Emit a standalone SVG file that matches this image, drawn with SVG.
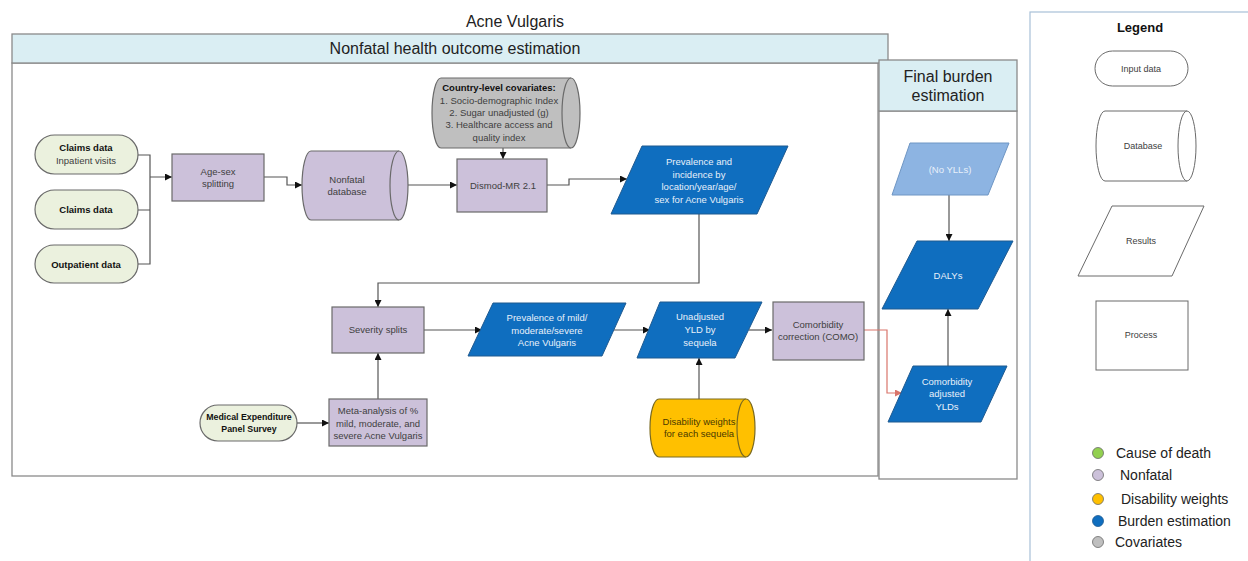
<svg xmlns="http://www.w3.org/2000/svg" width="1248" height="561" viewBox="0 0 1248 561">
  <style>
    text { font-family: "Liberation Sans", Arial, sans-serif; text-anchor: middle; }
    .t { font-size: 9.5px; fill: #404040; }
    .tb { font-size: 9.5px; fill: #111; font-weight: bold; }
    .tw { font-size: 9.5px; fill: #e8f0fa; }
    .head { font-size: 16px; fill: #222; }
    .leg { font-size: 14px; fill: #222; text-anchor: start; }
    .frame { fill: #fff; stroke: #8a8a8a; stroke-width: 1.3; }
    .band { fill: #daeef3; stroke: #8a8a8a; stroke-width: 1.3; }
    .input { fill: #ebf1de; stroke: #6a6a6a; stroke-width: 1.2; }
    .proc { fill: #ccc1da; stroke: #6a6a6a; stroke-width: 1.2; }
    .res { fill: #0f6ebf; stroke: #1f5a90; stroke-width: 1; }
    .resl { fill: #8db4e2; stroke: #6f96c4; stroke-width: 1; }
    .cov { fill: #bfbfbf; stroke: #6a6a6a; stroke-width: 1.2; }
    .dw { fill: #ffc000; stroke: #7a6a20; stroke-width: 1.2; }
    .lgd { fill: #fff; stroke: #6a6a6a; stroke-width: 1; }
    .edge { fill: none; stroke: #555; stroke-width: 1.2; }
    .red { fill: none; stroke: #d9756b; stroke-width: 1.2; }
  </style>
  <defs>
    <marker id="arr" viewBox="0 0 10 10" refX="10" refY="5" markerWidth="7" markerHeight="7" orient="auto" markerUnits="userSpaceOnUse">
      <path d="M0,0 L10,5 L0,10 Z" fill="#111"/>
    </marker>
    <marker id="arrRed" viewBox="0 0 10 10" refX="10" refY="5" markerWidth="7" markerHeight="7" orient="auto" markerUnits="userSpaceOnUse">
      <path d="M0,0 L10,5 L0,10 Z" fill="#d9756b"/>
    </marker>
  </defs>

  <rect width="1248" height="561" fill="#fff"/>

  <!-- swimlane frames -->
  <g id="frames">
    <text class="head" x="515" y="27">Acne Vulgaris</text>
    <rect class="frame" x="12" y="63" width="866" height="413"/>
    <rect class="band" x="12" y="34" width="876" height="29"/>
    <text class="head" x="455" y="54">Nonfatal health outcome estimation</text>
    <rect class="frame" x="879" y="111" width="138" height="368"/>
    <rect class="band" x="879" y="60" width="138" height="51"/>
    <text class="head" x="948" y="82">Final burden</text>
    <text class="head" x="948" y="101">estimation</text>
  </g>

  <!-- connectors -->
  <g id="connectors">
    <path class="edge" d="M138,155 H150 V264 H138 M138,210 H150 M150,177 H172" marker-end="url(#arr)"/>
    <path class="edge" d="M264,177 H287 V185 H302" marker-end="url(#arr)"/>
    <path class="edge" d="M408,185 H457" marker-end="url(#arr)"/>
    <path class="edge" d="M503,148 V159" marker-end="url(#arr)"/>
    <path class="edge" d="M547,185 H569 V179 H627" marker-end="url(#arr)"/>
    <path class="edge" d="M699,214 V283 H378 V307" marker-end="url(#arr)"/>
    <path class="edge" d="M378,399 V353" marker-end="url(#arr)"/>
    <path class="edge" d="M297,423 H329" marker-end="url(#arr)"/>
    <path class="edge" d="M424,330 H482" marker-end="url(#arr)"/>
    <path class="edge" d="M614,330 H650" marker-end="url(#arr)"/>
    <path class="edge" d="M749,330 H772" marker-end="url(#arr)"/>
    <path class="edge" d="M699,399 V358" marker-end="url(#arr)"/>
    <path class="red" d="M864,330 H887 V393 H902" marker-end="url(#arrRed)"/>
    <path class="edge" d="M948,366 V309" marker-end="url(#arr)"/>
    <path class="edge" d="M949,195 V241" marker-end="url(#arr)"/>
  </g>

  <!-- input data -->
  <g id="claims-inpatient">
    <rect class="input" x="35" y="135" width="103" height="39" rx="19.5"/>
    <text class="tb" x="86" y="151">Claims data</text>
    <text class="t" x="86" y="164">Inpatient visits</text>
  </g>
  <g id="claims">
    <rect class="input" x="35" y="190" width="103" height="39" rx="19.5"/>
    <text class="tb" x="86" y="213">Claims data</text>
  </g>
  <g id="outpatient">
    <rect class="input" x="35" y="245" width="103" height="38" rx="19"/>
    <text class="tb" x="86" y="268">Outpatient data</text>
  </g>
  <g id="meps">
    <rect class="input" x="200" y="405" width="97" height="36" rx="18"/>
    <text class="tb" x="249" y="420" style="font-size:8.8px">Medical Expenditure</text>
    <text class="tb" x="249" y="432" style="font-size:8.8px">Panel Survey</text>
  </g>

  <!-- processes -->
  <g id="age-sex">
    <rect class="proc" x="172" y="154" width="92" height="47"/>
    <text class="t" x="218" y="175">Age-sex</text>
    <text class="t" x="218" y="187">splitting</text>
  </g>
  <g id="dismod">
    <rect class="proc" x="457" y="159" width="90" height="53"/>
    <text class="t" x="503" y="189">Dismod-MR 2.1</text>
  </g>
  <g id="severity">
    <rect class="proc" x="332" y="307" width="92" height="46"/>
    <text class="t" x="378" y="333">Severity splits</text>
  </g>
  <g id="meta">
    <rect class="proc" x="329" y="399" width="98" height="47"/>
    <text class="t" x="378" y="414">Meta-analysis of %</text>
    <text class="t" x="378" y="427">mild, moderate, and</text>
    <text class="t" x="378" y="439">severe Acne Vulgaris</text>
  </g>
  <g id="como">
    <rect class="proc" x="773" y="302" width="91" height="58"/>
    <text class="t" x="818" y="328">Comorbidity</text>
    <text class="t" x="818" y="340">correction (COMO)</text>
  </g>

  <!-- databases -->
  <g id="nonfatal-db">
    <path class="proc" d="M311,151 H399 A9,34.5 0 0 1 399,220 H311 A9,34.5 0 0 1 311,151 Z"/>
    <path class="proc" fill="none" d="M399,151 A9,34.5 0 0 0 399,220"/>
    <text class="t" x="347" y="183">Nonfatal</text>
    <text class="t" x="347" y="195">database</text>
  </g>
  <g id="covariates">
    <path class="cov" d="M441,78 H571 A9,35 0 0 1 571,148 H441 A9,35 0 0 1 441,78 Z"/>
    <path class="cov" fill="none" d="M571,78 A9,35 0 0 0 571,148"/>
    <text class="tb" x="499" y="91">Country-level covariates:</text>
    <text class="t" x="499" y="104">1. Socio-demographic Index</text>
    <text class="t" x="499" y="116">2. Sugar unadjusted (g)</text>
    <text class="t" x="499" y="128">3. Healthcare access and</text>
    <text class="t" x="499" y="141">quality index</text>
  </g>
  <g id="disability-weights">
    <path class="dw" d="M659,399 H746 A9,29 0 0 1 746,457 H659 A9,29 0 0 1 659,399 Z"/>
    <path class="dw" fill="none" d="M746,399 A9,29 0 0 0 746,457"/>
    <text class="t" x="699" y="425" style="fill:#4a3a00">Disability weights</text>
    <text class="t" x="699" y="437" style="fill:#4a3a00">for each sequela</text>
  </g>

  <!-- results -->
  <g id="prevalence-incidence">
    <polygon class="res" points="642,146 788,146 757,214 611,214"/>
    <text class="tw" x="699" y="165">Prevalence and</text>
    <text class="tw" x="699" y="178">incidence by</text>
    <text class="tw" x="699" y="190">location/year/age/</text>
    <text class="tw" x="699" y="203">sex for Acne Vulgaris</text>
  </g>
  <g id="prevalence-severity">
    <polygon class="res" points="493,303 626,303 602,356 468,356"/>
    <text class="tw" x="547" y="321">Prevalence of mild/</text>
    <text class="tw" x="547" y="334">moderate/severe</text>
    <text class="tw" x="547" y="346">Acne Vulgaris</text>
  </g>
  <g id="unadjusted-yld">
    <polygon class="res" points="660,302 762,302 735,358 637,358"/>
    <text class="tw" x="700" y="320">Unadjusted</text>
    <text class="tw" x="700" y="333">YLD by</text>
    <text class="tw" x="700" y="346">sequela</text>
  </g>
  <g id="adjusted-ylds">
    <polygon class="res" points="913,366 1007,366 981,422 888,422"/>
    <text class="tw" x="947" y="385">Comorbidity</text>
    <text class="tw" x="947" y="397">adjusted</text>
    <text class="tw" x="947" y="410">YLDs</text>
  </g>
  <g id="dalys">
    <polygon class="res" points="917,241 1013,241 978,309 882,309"/>
    <text class="tw" x="948" y="279">DALYs</text>
  </g>
  <g id="no-ylls">
    <polygon class="resl" points="910,143 1009,143 988,195 892,195"/>
    <text class="tw" x="950" y="173">(No YLLs)</text>
  </g>

  <!-- legend -->
  <g id="legend">
    <rect x="1030" y="12" width="240" height="560" fill="#fff" stroke="#a8c0d8" stroke-width="1.2"/>
    <text x="1140" y="32" style="font-size:13px;font-weight:bold;fill:#111">Legend</text>
    <rect class="lgd" x="1095" y="51" width="93" height="35" rx="17.5"/>
    <text class="t" x="1141" y="72" style="font-size:9px">Input data</text>
    <path class="lgd" d="M1105,111 H1187 A9,35 0 0 1 1187,181 H1105 A9,35 0 0 1 1105,111 Z"/>
    <path class="lgd" fill="none" d="M1187,111 A9,35 0 0 0 1187,181"/>
    <text class="t" x="1143" y="149" style="font-size:9px">Database</text>
    <polygon class="lgd" points="1112,206 1204,206 1172,276 1078,276"/>
    <text class="t" x="1141" y="244" style="font-size:9px">Results</text>
    <rect class="lgd" x="1096" y="301" width="92" height="69"/>
    <text class="t" x="1141" y="338" style="font-size:9px">Process</text>
    <circle cx="1098" cy="453" r="5.5" fill="#92d050" stroke="#6a6a6a" stroke-width="0.8"/>
    <text class="leg" x="1116" y="458">Cause of death</text>
    <circle cx="1098" cy="475" r="5.5" fill="#ccc1da" stroke="#6a6a6a" stroke-width="0.8"/>
    <text class="leg" x="1120" y="480">Nonfatal</text>
    <circle cx="1098" cy="499" r="5.5" fill="#ffc000" stroke="#6a6a6a" stroke-width="0.8"/>
    <text class="leg" x="1121" y="504">Disability weights</text>
    <circle cx="1098" cy="521" r="5.5" fill="#0f6ebf" stroke="#1f5a90" stroke-width="0.8"/>
    <text class="leg" x="1118" y="526">Burden estimation</text>
    <circle cx="1098" cy="542" r="5.5" fill="#bfbfbf" stroke="#6a6a6a" stroke-width="0.8"/>
    <text class="leg" x="1115" y="547">Covariates</text>
  </g>
</svg>
